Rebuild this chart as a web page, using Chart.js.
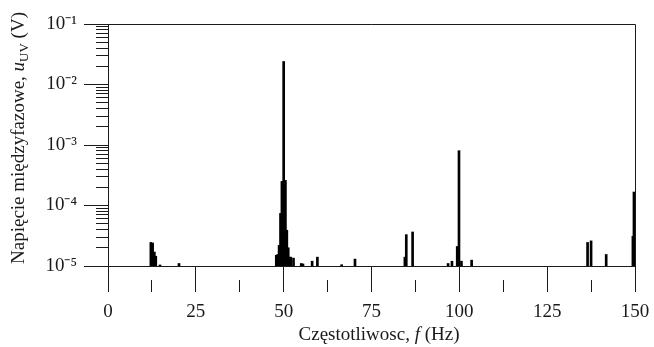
<!DOCTYPE html>
<html>
<head>
<meta charset="utf-8">
<script src="https://cdn.jsdelivr.net/npm/chart.js@4/dist/chart.umd.min.js"></script>
<style>
  html, body { margin: 0; padding: 0; background: #fff; }
  #wrap { width: 654px; height: 347px; }
</style>
</head>
<body>
<div id="wrap"><canvas id="spectrum"></canvas></div>
<script>
// harmonic lines (Hz, V)
const freqs = [12.2, 12.7, 13.2, 13.6, 14.8, 20.2,
    47.9, 48.3, 48.7, 49.1, 49.5, 50.0, 50.5, 50.9, 51.3, 51.7, 52.0, 52.8,
    55.0, 55.5, 58.1, 59.6, 66.5, 70.3,
    84.5, 84.9, 86.7, 96.8, 97.9, 99.4, 99.9, 100.6, 103.5,
    136.5, 137.5, 141.8, 149.4, 149.7];
const volts = [2.45e-5, 2.4e-5, 1.7e-5, 1.45e-5, 1.04e-5, 1.1e-5,
    1.5e-5, 1.55e-5, 2.2e-5, 7.4e-5, 2.5e-4, 2.4e-2, 2.6e-4, 3.9e-5, 2.0e-5, 1.4e-5, 1.4e-5, 1.35e-5,
    1.1e-5, 1.08e-5, 1.2e-5, 1.4e-5, 1.05e-5, 1.3e-5,
    1.4e-5, 3.3e-5, 3.65e-5, 1.1e-5, 1.2e-5, 2.1e-5, 8.05e-4, 1.2e-5, 1.25e-5,
    2.45e-5, 2.6e-5, 1.55e-5, 3.1e-5, 1.67e-4];

const xTicks = [0, 12.5, 25, 37.5, 50, 62.5, 75, 87.5, 100, 112.5, 125, 137.5, 150];
const xLabels = ['0', '', '25', '', '50', '', '75', '', '100', '', '125', '', '150'];
const yDecades = [-5, -4, -3, -2, -1];
const yLabels = ['10⁻⁵', '10⁻⁴', '10⁻³', '10⁻²', '10⁻¹'];

const serif = "'Liberation Serif', 'Times New Roman', serif";
const ink = '#1a1a1a';

function isDecade(v) {
    const e = Math.round(Math.log10(v));
    return Math.abs(v / Math.pow(10, e) - 1) < 1e-6;
}

function drawRuns(ctx, runs) {
    let w = 0;
    runs.forEach(r => { ctx.font = r.font; w += ctx.measureText(r.t).width; });
    let x = -w / 2;
    runs.forEach(r => {
        ctx.font = r.font;
        ctx.fillText(r.t, x, r.dy || 0);
        x += ctx.measureText(r.t).width;
    });
}

const frameAndTitles = {
    id: 'frameAndTitles',
    afterDraw(chart) {
        const {ctx, chartArea: a} = chart;
        ctx.save();
        ctx.strokeStyle = ink;
        ctx.lineWidth = 1;
        ctx.beginPath();
        ctx.moveTo(a.left, Math.round(a.top) + 0.5);
        ctx.lineTo(Math.round(a.right) + 0.5, Math.round(a.top) + 0.5);
        ctx.lineTo(Math.round(a.right) + 0.5, a.bottom);
        ctx.stroke();

        ctx.fillStyle = ink;
        ctx.textBaseline = 'alphabetic';
        ctx.textAlign = 'left';

        // x title
        ctx.save();
        ctx.translate(379, 340);
        drawRuns(ctx, [
            {t: 'Częstotliwosc, ', font: '19px ' + serif},
            {t: 'f', font: 'italic 19px ' + serif},
            {t: ' (Hz)', font: '19px ' + serif}
        ]);
        ctx.restore();

        // y title
        ctx.save();
        ctx.translate(24, 138);
        ctx.rotate(-Math.PI / 2);
        drawRuns(ctx, [
            {t: 'Napięcie międzyfazowe, ', font: '19px ' + serif},
            {t: 'u', font: 'italic 19px ' + serif},
            {t: 'UV', font: '13px ' + serif, dy: 4},
            {t: ' (V)', font: '19px ' + serif}
        ]);
        ctx.restore();
        ctx.restore();
    }
};

const chart = new Chart('spectrum', {
    type: 'bar',
    data: {
        datasets: [{
            data: freqs.map((f, i) => ({x: f, y: volts[i]})),
            backgroundColor: '#000',
            borderWidth: 0,
            barThickness: 2
        }]
    },
    options: {
        responsive: true,
        maintainAspectRatio: false,
        animation: false,
        layout: {padding: {left: 0, top: 24, right: 19, bottom: 0}},
        plugins: {legend: {display: false}, tooltip: {enabled: false}},
        scales: {
            x: {
                type: 'linear',
                min: 0,
                max: 150,
                offset: false,
                afterBuildTicks: s => { s.ticks = xTicks.map(v => ({value: v})); },
                afterFit: s => { s.height = 81; s.paddingLeft = 0; s.paddingRight = 0; },
                ticks: {
                    autoSkip: false,
                    maxRotation: 0,
                    padding: 9,
                    color: ink,
                    font: {family: serif, size: 19},
                    callback: (v, i) => xLabels[i]
                },
                grid: {
                    offset: false,
                    drawOnChartArea: false,
                    tickLength: 26,
                    tickColor: ink,
                    tickBorderDash: c => (c.tick && c.tick.value % 25 !== 0) ? [0, 13, 40] : []
                },
                border: {color: ink}
            },
            y: {
                type: 'logarithmic',
                min: 1e-5,
                max: 1e-1,
                afterBuildTicks: s => {
                    const t = [];
                    yDecades.forEach(e => {
                        for (let m = 1; m <= 9; m++) {
                            if (e === -1 && m > 1) break;
                            t.push({value: m * Math.pow(10, e)});
                        }
                    });
                    s.ticks = t;
                },
                afterFit: s => { s.width = 108; s.paddingTop = 0; s.paddingBottom = 0; },
                ticks: {
                    autoSkip: false,
                    padding: 7,
                    color: ink,
                    font: {family: serif, size: 19},
                    callback: v => isDecade(v) ? yLabels[yDecades.indexOf(Math.round(Math.log10(v)))] : ''
                },
                grid: {
                    offset: false,
                    drawOnChartArea: false,
                    tickLength: 24,
                    tickColor: ink,
                    tickBorderDash: c => (c.tick && !isDecade(c.tick.value)) ? [0, 12, 40] : []
                },
                border: {color: ink}
            }
        }
    },
    plugins: [frameAndTitles]
});
</script>
</body>
</html>
